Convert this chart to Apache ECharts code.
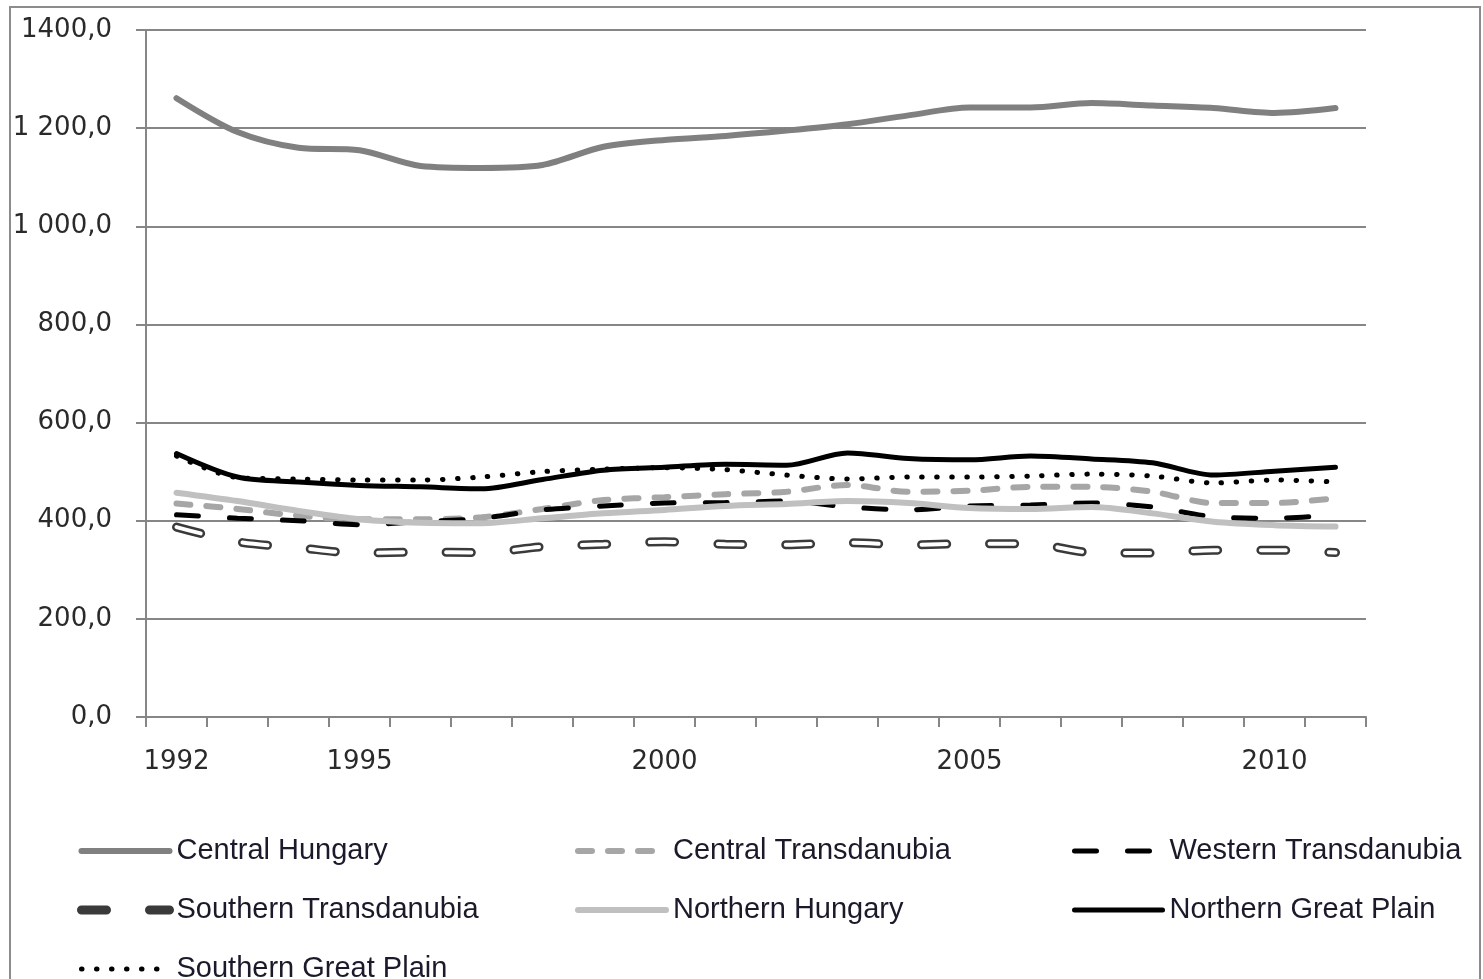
<!DOCTYPE html>
<html>
<head>
<meta charset="utf-8">
<script src="https://cdn.jsdelivr.net/npm/echarts@6/dist/echarts.min.js"></script>
<style>
  html, body { margin: 0; padding: 0; background: #fff; }
  #chart { width: 1483px; height: 979px; }
</style>
</head>
<body>
<div id="chart"></div>
<script>
const years = ['1992','1993','1994','1995','1996','1997','1998','1999','2000','2001',
               '2002','2003','2004','2005','2006','2007','2008','2009','2010','2011'];
const shownYears = ['1992','1995','2000','2005','2010'];
const yTickLabels = ['0,0','200,0','400,0','600,0','800,0','1 000,0','1 200,0','1400,0'];

const centralHungary       = [1261,1192,1160,1155,1123,1119,1125,1162,1176,1184,1195,1208,1226,1242,1242,1251,1246,1241,1231,1241];
const centralTransdanubia  = [435,424,410,403,403,407,424,442,448,454,459,473,459,461,469,469,459,436,436,446];
const westernTransdanubia  = [412,405,400,392,398,405,422,430,436,437,440,428,422,430,432,436,428,408,405,412];
const southernTransdanubia = [387,357,345,334,336,335,347,352,357,352,351,355,351,353,353,335,334,340,340,335];
const northernHungary      = [457,440,420,403,396,395,405,415,422,430,434,440,436,426,424,428,415,398,391,388];
const northernGreatPlain   = [537,489,479,472,469,465,484,503,509,515,513,538,527,524,532,526,518,493,501,509];
const southernGreatPlain   = [532,488,485,483,483,489,500,505,508,504,493,485,489,489,491,495,491,477,483,479];

const chart = echarts.init(document.getElementById('chart'));

function line(name, data, color, width, dash) {
  return {
    name: name,
    type: 'line',
    data: data,
    smooth: 0.3,
    symbol: 'none',
    animation: false,
    lineStyle: { color: color, width: width, type: dash || 'solid', cap: 'round' },
    itemStyle: { color: color }
  };
}

const legendText = { fontFamily: 'Liberation Sans', fontSize: 29, color: '#1a1a2a', lineHeight: 30, padding: [0, 0, 0, 2] };
const legendBase = {
  orient: 'vertical', top: 836, height: 170, padding: 0,
  itemWidth: 88, itemHeight: 14, itemGap: 29,
  textStyle: legendText,
  itemStyle: { opacity: 0 },
  lineStyle: { width: 'inherit' }
};

chart.setOption({
  backgroundColor: '#fff',
  animation: false,
  graphic: [{
    type: 'rect',
    shape: { x: 10, y: 7, width: 1470, height: 990 },
    style: { fill: null, stroke: '#8c8c8c', lineWidth: 2 },
    silent: true
  }],
  grid: { left: 146, right: 117, top: 30, bottom: 262 },
  legend: [
    Object.assign({ left: 77, data: ['Central Hungary', 'Southern Transdanubia', 'Southern Great Plain'] }, legendBase),
    Object.assign({ left: 575, data: ['Central Transdanubia', 'Northern Hungary'] }, legendBase),
    Object.assign({ left: 1072, data: ['Western Transdanubia', 'Northern Great Plain'] }, legendBase)
  ],
  xAxis: {
    type: 'category',
    data: years,
    boundaryGap: true,
    axisLine: { lineStyle: { color: '#868686', width: 2 } },
    axisTick: { show: true, interval: 0, length: 10, lineStyle: { color: '#868686', width: 2 } },
    axisLabel: {
      interval: function (i, v) { return shownYears.indexOf(v) >= 0; },
      margin: 32,
      fontFamily: 'DejaVu Sans',
      fontSize: 26,
      color: '#2a2a2a'
    },
    splitLine: { show: false }
  },
  yAxis: {
    type: 'value',
    min: 0,
    max: 1400,
    interval: 200,
    axisLine: { show: true, lineStyle: { color: '#868686', width: 2 } },
    axisTick: { show: true, length: 10, lineStyle: { color: '#868686', width: 2 } },
    axisLabel: {
      margin: 34,
      fontFamily: 'DejaVu Sans',
      fontSize: 26,
      color: '#2a2a2a',
      formatter: function (v) { return yTickLabels[Math.round(v / 200)]; }
    },
    splitLine: { show: true, lineStyle: { color: '#868686', width: 2 } }
  },
  series: [
    line('Central Hungary', centralHungary, '#808080', 6),
    line('Central Transdanubia', centralTransdanubia, '#a6a6a6', 6, [14, 16]),
    line('Western Transdanubia', westernTransdanubia, '#000000', 5, [22, 31]),
    line('Southern Transdanubia', southernTransdanubia, '#3a3a3a', 9, [25, 43]),
    line('Southern Transdanubia fill', southernTransdanubia, '#ffffff', 4, [25, 43]),
    line('Northern Hungary', northernHungary, '#c0c0c0', 6),
    line('Northern Great Plain', northernGreatPlain, '#000000', 5),
    line('Southern Great Plain', southernGreatPlain, '#000000', 5, [0.5, 14.5])
  ]
});
</script>
</body>
</html>
